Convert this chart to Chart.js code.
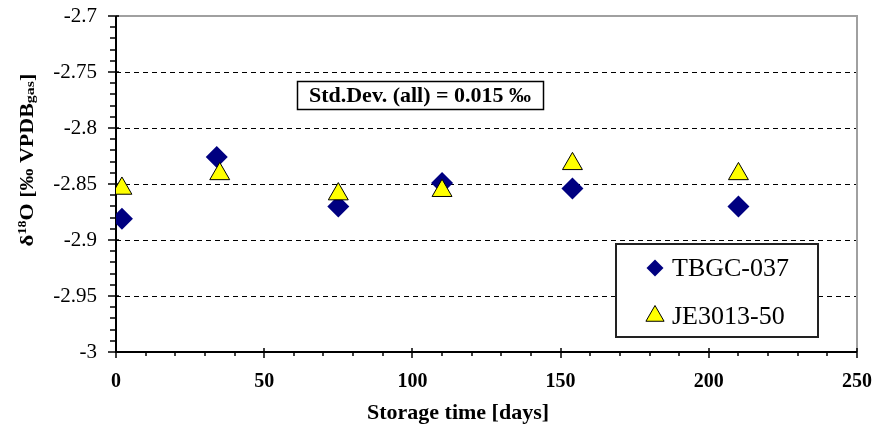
<!DOCTYPE html>
<html>
<head>
<meta charset="utf-8">
<script src="https://cdn.jsdelivr.net/npm/chart.js@4.4.0/dist/chart.umd.min.js"></script>
<style>
  html, body { margin: 0; padding: 0; background: #fff; }
</style>
</head>
<body>
<canvas id="isoChart" width="872" height="433"></canvas>
<script>
// storage test, d18O of the two reference gases
const daysTBGC = [2, 34, 75, 110, 154, 210];
const d18oTBGC = [-2.881, -2.826, -2.870, -2.849, -2.854, -2.870];
const daysJE = [2, 35, 75, 110, 154, 210];
const d18oJE = [-2.854, -2.841, -2.859, -2.856, -2.832, -2.841];
const seriesNames = ['TBGC-037', 'JE3013-50'];
const xTicks = [0, 50, 100, 150, 200, 250];
const yTicks = [-3, -2.95, -2.9, -2.85, -2.8, -2.75, -2.7];
const stdDevNote = 'Std.Dev. (all) = 0.015 \u2030';
const xTitle = 'Storage time [days]';

const SERIF = '"Liberation Serif", "Times New Roman", serif';

function pts(xs, ys) {
  return xs.map((x, i) => ({ x: x, y: ys[i] }));
}

// frame, dashed grid, axes with minor ticks, titles, note box and legend
const decor = {
  id: 'decor',
  beforeDatasetsDraw(chart) {
    const ctx = chart.ctx;
    const a = chart.chartArea;
    const xs = chart.scales.x, ys = chart.scales.y;
    ctx.save();

    // dashed horizontal grid
    ctx.strokeStyle = '#000';
    ctx.lineWidth = 1;
    ctx.setLineDash([5, 4]);
    yTicks.slice(1, -1).forEach(v => {
      const py = Math.round(ys.getPixelForValue(v)) + 0.5;
      ctx.beginPath();
      ctx.moveTo(a.left, py);
      ctx.lineTo(a.right, py);
      ctx.stroke();
    });
    ctx.setLineDash([]);

    // grey frame top / right
    ctx.strokeStyle = '#a0a0a0';
    ctx.lineWidth = 2;
    ctx.beginPath();
    ctx.moveTo(a.left, a.top);
    ctx.lineTo(a.right, a.top);
    ctx.lineTo(a.right, a.bottom);
    ctx.stroke();

    // axes
    ctx.strokeStyle = '#000';
    ctx.lineWidth = 2;
    ctx.beginPath();
    ctx.moveTo(a.left, a.top);
    ctx.lineTo(a.left, a.bottom);
    ctx.lineTo(a.right, a.bottom);
    ctx.stroke();

    // y ticks: minor every 0.01, major every 0.05
    ctx.lineWidth = 1.5;
    for (let k = 0; k <= 30; k++) {
      const v = -3 + k / 100;
      const py = Math.round(ys.getPixelForValue(v));
      const major = k % 5 === 0;
      ctx.beginPath();
      ctx.moveTo(a.left - (major ? 8 : 6), py);
      ctx.lineTo(a.left + (major ? 3 : 0), py);
      ctx.stroke();
    }
    // x ticks: minor every 10, major every 50
    for (let k = 0; k <= 25; k++) {
      const px = Math.round(xs.getPixelForValue(k * 10));
      const major = k % 5 === 0;
      ctx.beginPath();
      ctx.moveTo(px, a.bottom - (major ? 4 : 0));
      ctx.lineTo(px, a.bottom + (major ? 6 : 4));
      ctx.stroke();
    }
    ctx.restore();
  },
  afterDraw(chart) {
    const ctx = chart.ctx;
    const ds = chart.data.datasets;
    ctx.save();
    ctx.fillStyle = '#000';

    // x title
    ctx.font = 'bold 22px ' + SERIF;
    ctx.textAlign = 'center';
    ctx.textBaseline = 'middle';
    ctx.fillText(xTitle, 458, 413);

    // y title, rotated, with superscript 18
    const parts = [
      { t: '\u03b4', f: 'bold 23px ', dy: 0 },
      { t: '18', f: 'bold 14px ', dy: -9 },
      { t: 'O [\u2030 VPDB', f: 'bold 22px ', dy: 0 },
      { t: 'gas', f: 'bold 16px ', dy: 1 },
      { t: ']', f: 'bold 22px ', dy: 0 }
    ];
    let total = 0;
    parts.forEach(p => { ctx.font = p.f + SERIF; p.w = ctx.measureText(p.t).width; total += p.w; });
    ctx.save();
    ctx.translate(33, 160);
    ctx.rotate(-Math.PI / 2);
    ctx.scale(1, 0.82);
    ctx.textAlign = 'left';
    ctx.textBaseline = 'alphabetic';
    let cx = -total / 2;
    parts.forEach(p => {
      ctx.font = p.f + SERIF;
      ctx.fillText(p.t, cx, p.dy);
      cx += p.w;
    });
    ctx.restore();

    // std dev note
    ctx.fillStyle = '#fff';
    ctx.fillRect(297, 81, 246, 28);
    ctx.strokeStyle = '#000';
    ctx.lineWidth = 1.5;
    ctx.strokeRect(297.5, 81.5, 246, 28);
    ctx.fillStyle = '#000';
    ctx.font = 'bold 22px ' + SERIF;
    ctx.textAlign = 'center';
    ctx.textBaseline = 'middle';
    ctx.fillText(stdDevNote, 420, 96);

    // legend
    ctx.fillStyle = '#fff';
    ctx.fillRect(616, 244, 202, 93);
    ctx.strokeStyle = '#222';
    ctx.lineWidth = 2;
    ctx.strokeRect(616, 244, 202, 93);
    const rows = [{ y: 268, r: 8.5 }, { y: 316, r: 10.5 }];
    ds.forEach((d, i) => {
      ctx.fillStyle = d.backgroundColor;
      ctx.strokeStyle = d.borderColor;
      ctx.lineWidth = d.borderWidth;
      Chart.helpers.drawPoint(ctx, {
        pointStyle: d.pointStyle, radius: rows[i].r,
        borderWidth: d.borderWidth, rotation: 0
      }, 655, rows[i].y);
      ctx.fillStyle = '#000';
      ctx.font = '26px ' + SERIF;
      ctx.textAlign = 'left';
      ctx.textBaseline = 'middle';
      ctx.fillText(d.label, 672, rows[i].y + 1);
    });
    ctx.restore();
  }
};

const ctx = document.getElementById('isoChart').getContext('2d');

let isoChart = new Chart(ctx, {
  type: 'scatter',
  data: {
    datasets: [{
      label: seriesNames[0],
      data: pts(daysTBGC, d18oTBGC),
      order: 1,
      pointStyle: 'rectRot',
      pointRadius: 11,
      backgroundColor: '#000080',
      borderColor: '#000080',
      borderWidth: 0
    }, {
      label: seriesNames[1],
      data: pts(daysJE, d18oJE),
      order: 0,
      pointStyle: 'triangle',
      pointRadius: 11.5,
      backgroundColor: '#ffff00',
      borderColor: '#000',
      borderWidth: 1
    }]
  },
  options: {
    responsive: false,
    devicePixelRatio: 1,
    animation: false,
    layout: { padding: { top: 16, right: 15, left: 0, bottom: 0 } },
    plugins: {
      legend: { display: false },
      tooltip: { enabled: false },
      title: { display: false }
    },
    scales: {
      x: {
        type: 'linear',
        min: 0,
        max: 250,
        afterBuildTicks: s => { s.ticks = xTicks.map(v => ({ value: v })); },
        afterFit: s => { s.height = 81; s.paddingLeft = 0; s.paddingRight = 0; },
        grid: { display: false, drawTicks: false },
        border: { display: false },
        ticks: {
          color: '#000',
          padding: 18,
          maxRotation: 0,
          font: { family: SERIF, size: 20, weight: 'bold' }
        }
      },
      y: {
        type: 'linear',
        min: -3,
        max: -2.7,
        afterBuildTicks: s => { s.ticks = yTicks.map(v => ({ value: v })); },
        afterFit: s => { s.width = 116; s.paddingTop = 0; s.paddingBottom = 0; },
        grid: { display: false, drawTicks: false },
        border: { display: false },
        ticks: {
          color: '#000',
          padding: 19,
          font: { family: SERIF, size: 21 },
          callback: v => String(Math.round(v * 100) / 100)
        }
      }
    }
  },
  plugins: [decor]
});
</script>
</body>
</html>
